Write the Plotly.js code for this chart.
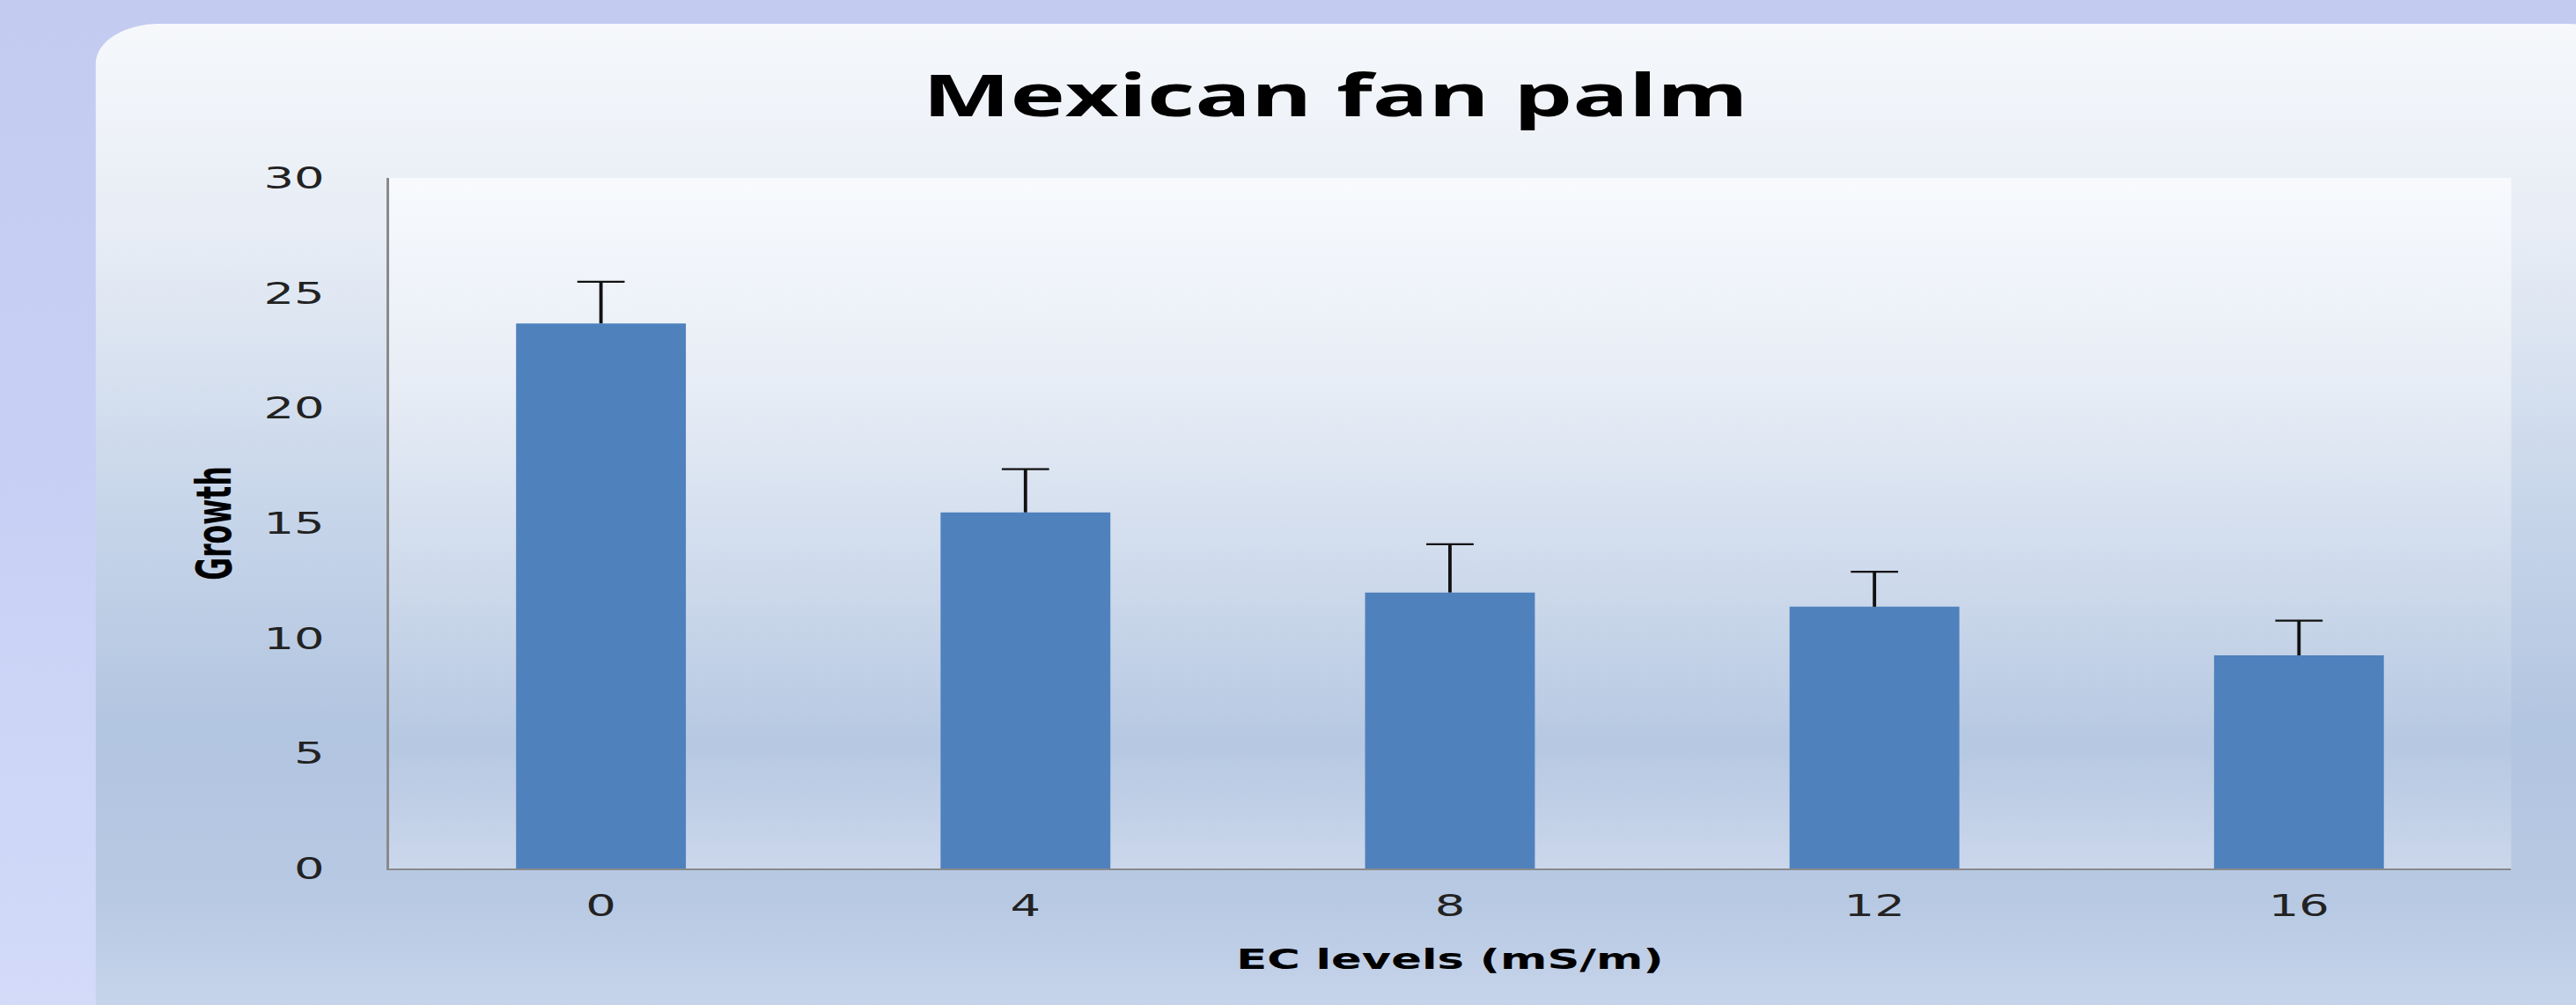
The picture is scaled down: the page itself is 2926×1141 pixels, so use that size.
<!DOCTYPE html>
<html>
<head>
<meta charset="utf-8">
<script src="https://cdn.plot.ly/plotly-3.0.1.min.js"></script>
<style>
  html, body { margin:0; padding:0; width:2926px; height:1141px; overflow:hidden; }
  body { background:linear-gradient(to bottom, #c3cbf1 0%, #c8d0f5 50%, #d3dbf9 100%); }
  #wrap { position:absolute; left:0; top:0; width:1829px; height:1141px; transform:scaleX(1.59978); transform-origin:0 0; }
  #panel { position:absolute; left:67.5px; top:27px; width:1800px; height:1200px; border-radius:45px;
    background:linear-gradient(to bottom, #f6f8fb 0px, #e6ecf5 250px, #c8d6ea 540px, #b2c5e0 800px, #b8c9e3 1000px, #c6d4ea 1114px); }
  #plotbg { position:absolute; left:275.6px; top:202px; width:1507px; height:784px;
    background:linear-gradient(to bottom, #f8fafd 0%, #e7edf6 30%, #cad7ea 62%, #b6c8e2 82%, #cbd7eb 100%); }
  #chart { position:absolute; left:0; top:0; width:1829px; height:1141px; }
</style>
</head>
<body>
<div id="wrap">
  <div id="panel"></div>
  <div id="plotbg"></div>
  <div id="chart"></div>
</div>
<script>
const categories = ['0', '4', '8', '12', '16'];
const growth = [23.68, 15.47, 11.99, 11.37, 9.26];
const errorPlus = [1.81, 1.88, 2.10, 1.52, 1.51];
const errorMinus = [0, 0, 0, 0, 0];
const yTicks = [0, 5, 10, 15, 20, 25, 30];

const barTrace = {
  type: 'bar',
  x: categories,
  y: growth,
  marker: { color: '#4f81bd' },
  error_y: { type: 'data', symmetric: false, array: errorPlus, arrayminus: errorMinus,
             color: '#111111', thickness: 2.4, width: 0 },
  hoverinfo: 'x+y'
};

// upper caps of the error bars (only the plus side is drawn, as in the original)
const capTrace = {
  type: 'scatter',
  mode: 'markers',
  x: categories,
  y: growth.map((v, i) => v + errorPlus[i]),
  marker: { symbol: 'line-ew', size: 24, color: '#111111', line: { color: '#111111', width: 2.2 } },
  hoverinfo: 'skip'
};

const layout = {
  width: 1829,
  height: 1141,
  margin: { l: 275.6, r: 46.4, t: 202, b: 155, pad: 0 },
  paper_bgcolor: 'rgba(0,0,0,0)',
  plot_bgcolor: 'rgba(0,0,0,0)',
  bargap: 0.6,
  showlegend: false,
  title: {
    text: 'Mexican fan palm',
    font: { family: 'Open Sans', size: 66, weight: 700, color: '#000000' },
    xref: 'container', yref: 'container',
    x: 0.5184, xanchor: 'center',
    y: 0.9045, yanchor: 'middle'
  },
  xaxis: {
    type: 'category',
    categoryorder: 'array',
    categoryarray: categories,
    showline: true, linecolor: '#8a8a8a', linewidth: 1.8,
    showgrid: false, zeroline: false,
    ticks: '',
    ticklabelstandoff: 11,
    tickfont: { family: 'DejaVu Sans', size: 34, color: '#222222' },
    title: { text: 'EC levels (mS/m)', standoff: 31,
             font: { family: 'DejaVu Sans', size: 32, weight: 700, color: '#000000' } }
  },
  yaxis: {
    range: [0, 30],
    tickvals: yTicks,
    ticktext: yTicks.map(String),
    showline: true, linecolor: '#8a8a8a', linewidth: 1.8,
    showgrid: false, zeroline: false,
    ticks: '',
    ticklabelstandoff: 37,
    tickfont: { family: 'DejaVu Sans', size: 34, color: '#222222' },
    title: { text: 'Growth', standoff: 12,
             font: { family: 'Liberation Sans Narrow, DejaVu Sans Condensed', size: 35, weight: 700, color: '#000000' } }
  }
};

Plotly.newPlot('chart', [barTrace, capTrace], layout, { displayModeBar: false, staticPlot: true });
</script>
</body>
</html>
